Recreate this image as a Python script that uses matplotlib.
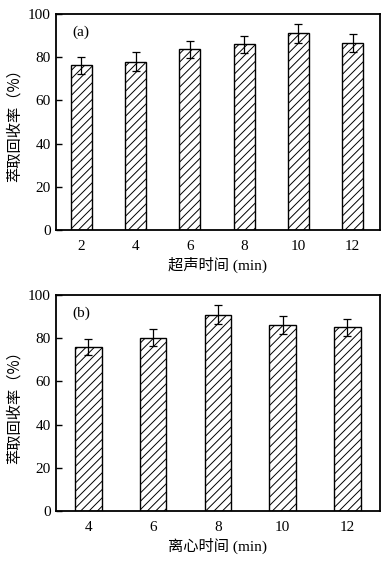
import numpy as np
import matplotlib
matplotlib.use('Agg')
import matplotlib.pyplot as plt

plt.rcParams['font.family'] = ['Liberation Serif', 'Noto Sans CJK SC']
plt.rcParams['hatch.linewidth'] = 0.7

# (a) ultrasonic time
time_a = ['2', '4', '6', '8', '10', '12']
rec_a = [76.2, 78.0, 83.7, 86.0, 91.0, 86.6]
err_a = [4.0, 4.5, 4.0, 4.0, 4.6, 4.0]

# (b) centrifuge time
time_b = ['4', '6', '8', '10', '12']
rec_b = [75.9, 80.3, 91.0, 86.2, 85.1]
err_b = [3.7, 4.0, 4.4, 4.2, 3.9]

fig = plt.figure(figsize=(3.88, 5.61), dpi=100)
ax1 = fig.add_axes([0.144, 0.590, 0.835, 0.385])
ax2 = fig.add_axes([0.144, 0.089, 0.835, 0.385])


def draw(ax, cats, vals, errs, width, xlim, tag, xlabel):
    x = np.arange(len(cats))
    ax.bar(x, vals, width=width, color='white', edgecolor='black',
           linewidth=1.0, hatch='////')
    ax.errorbar(x, vals, yerr=errs, fmt='none', ecolor='black',
                elinewidth=0.9, capsize=3, capthick=0.9)
    ax.set_xlim(*xlim)
    ax.set_ylim(0, 100)
    ax.set_xticks(x)
    ax.set_xticklabels(cats)
    ax.set_yticks(range(0, 101, 20))
    ax.tick_params(direction='in', labelsize=11, length=4, width=1)
    ax.tick_params(axis='x', length=0, pad=7)
    for s in ax.spines.values():
        s.set_linewidth(1.3)
    ax.set_ylabel('萃取回收率（%）', fontsize=11,
                  family=['Noto Sans CJK SC', 'Liberation Serif'], labelpad=4)
    ax.set_xlabel(xlabel, fontsize=11, labelpad=3)
    ax.text(0.05, 0.915, tag, transform=ax.transAxes, fontsize=11,
            ha='left', va='center')


draw(ax1, time_a, rec_a, err_a, 0.39, (-0.47, 5.5), '(a)', '超声时间 (min)')
draw(ax2, time_b, rec_b, err_b, 0.41, (-0.5, 4.5), '(b)', '离心时间 (min)')

fig.savefig('out.png', dpi=100)
